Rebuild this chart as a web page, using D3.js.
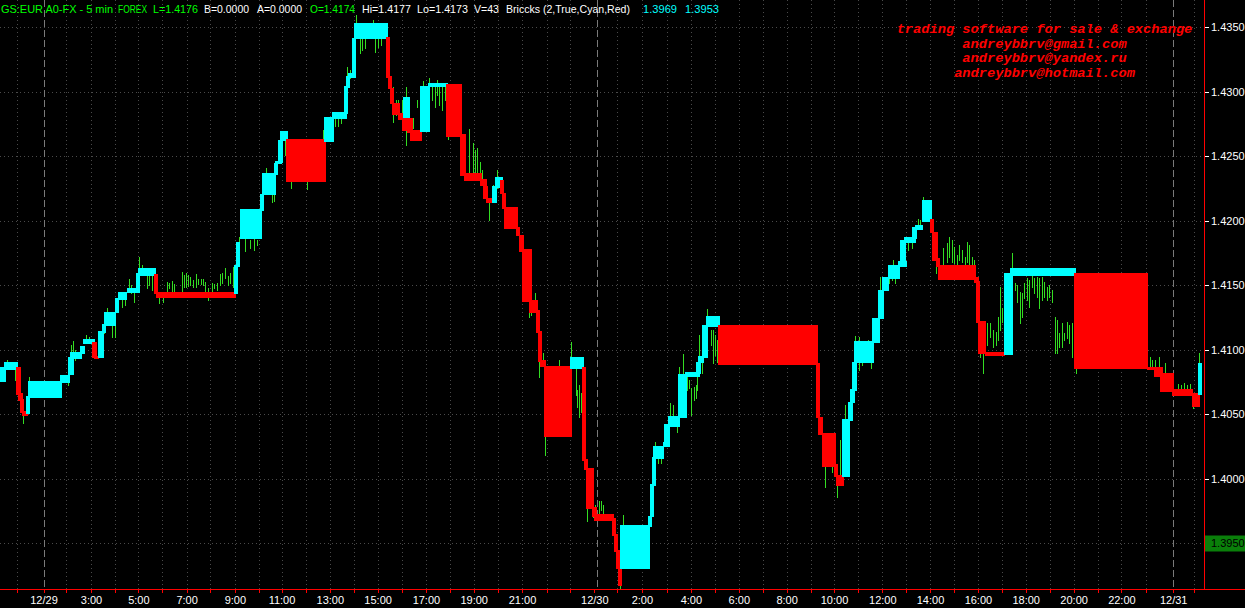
<!DOCTYPE html>
<html><head><meta charset="utf-8">
<script src="https://cdn.jsdelivr.net/npm/d3@7"></script>
<style>html,body{margin:0;padding:0;background:#000;overflow:hidden}svg{display:block}</style>
</head><body><svg id="c" width="1245" height="608"></svg>
<script>
// ---------- data ----------
const priceTicks = [1.3950, 1.4000, 1.4050, 1.4100, 1.4150, 1.4200, 1.4250, 1.4300, 1.4350];
const markedPrice = 1.3950;
const timeTickSlots = [8.3, 21.75, 33.2, 45.5, 57.35, 69.2, 81, 93.3, 105.2, 117.45, 129.3, 140.75, 153, 164.9, 176.75, 188.8, 201, 212.95, 225, 236.85, 249.1, 261, 273.25, 285, 297.15, 308.4, 320.95, 333.3, 345.45, 357.4, 369.4, 381.35, 393.3, 405.25, 417, 429.15, 441.15, 453.1, 465, 477, 488.95, 500.9, 512.85, 525.2, 536.8, 548.75, 560.7, 573, 586.6, 597];
const timeTickLabels = ["", "12/29", "", "3:00", "", "5:00", "", "7:00", "", "9:00", "", "11:00", "", "13:00", "", "15:00", "", "17:00", "", "19:00", "", "21:00", "", "", "12/30", "", "2:00", "", "4:00", "", "6:00", "", "8:00", "", "10:00", "", "12:00", "", "14:00", "", "16:00", "", "18:00", "", "20:00", "", "22:00", "", "12/31", ""];
const daySeparatorSlots = [21.75, 298.6, 586.6];

// bricks: [startSlot, endSlot, high, low, direction(1 up / -1 down)]
const bricks = [
[0,3,1.40864,1.40748,1],[2,9,1.40903,1.40841,1],[8,10.5,1.40864,1.40647,-1],[9,11.5,1.40663,1.40601,-1],
[10,12,1.40616,1.40507,-1],[11,14,1.40523,1.40484,-1],[13,15,1.40639,1.40500,1],[14,31,1.40756,1.40624,1],
[30,35,1.40802,1.40740,1],[34,37,1.40942,1.40802,1],[35,41,1.40980,1.40926,1],[40,42.5,1.41027,1.40965,1],
[41.5,47.5,1.41081,1.41042,1],[46,48.5,1.41058,1.40934,-1],[47,49.5,1.40949,1.40926,-1],[49,52,1.41143,1.40934,1],
[51,53,1.41197,1.41128,1],[52,58,1.41290,1.41182,1],[57.5,59.5,1.41399,1.41283,1],[59,63.5,1.41445,1.41383,1],
[63.5,70,1.41476,1.41438,1],[68,70,1.41593,1.41461,1],[69,78,1.41632,1.41569,1],[77,79,1.41585,1.41430,-1],
[78,118,1.41445,1.41399,-1],[117,119,1.41655,1.41430,1],[118,120,1.41833,1.41639,1],[120,131,1.42090,1.41856,1],
[130,132,1.42206,1.42074,1],[131,138,1.42369,1.42198,1],[137,139,1.42445,1.42353,1],[137.5,141,1.42461,1.42439,1],
[139,141.5,1.42624,1.42445,1],[140,144,1.42694,1.42616,1],[143,163,1.42632,1.42299,-1],
[162,167,1.42802,1.42608,1],[166,173.5,1.42841,1.42787,1],[172,174,1.43042,1.42825,1],[173,175,1.43120,1.43027,1],
[174,178,1.43143,1.43104,1],[176,178,1.43414,1.43135,1],[177,194,1.43531,1.43407,1],[193,195,1.43422,1.43104,-1],
[194,196,1.43120,1.43019,-1],[195,197,1.43027,1.42903,-1],[196,200,1.42911,1.42818,-1],[199,202.5,1.42833,1.42779,-1],
[201,203.5,1.42802,1.42694,-1],[201.5,205,1.42957,1.42794,1],[203.5,206.5,1.42794,1.42678,-1],[205,211,1.42701,1.42616,-1],
[210,215,1.43042,1.42686,1],[214,224,1.43066,1.43035,1],[223,231,1.43058,1.42647,-1],[230,233,1.42670,1.42346,-1],
[232,241,1.42369,1.42307,-1],[240,243.5,1.42322,1.42268,-1],[241.5,244,1.42268,1.42167,-1],[243,246.5,1.42175,1.42136,-1],
[246,248.5,1.42268,1.42136,1],[247.5,251.5,1.42338,1.42253,1],[250,252,1.42315,1.42206,-1],[251,253,1.42214,1.42090,-1],
[252,259,1.42105,1.41934,-1],[258,260,1.41950,1.41880,-1],[259.5,262,1.41887,1.41756,-1],[261,266,1.41779,1.41368,-1],
[264.5,269,1.41383,1.41283,-1],[268,270,1.41306,1.41128,-1],[269,271,1.41143,1.40903,-1],[270,273,1.40918,1.40864,-1],
[272,286,1.40872,1.40321,-1],[285,292,1.40942,1.40849,1],[291,293,1.40864,1.40135,-1],[292,294,1.40151,1.40066,-1],
[293,297,1.40081,1.39763,-1],[296,298.5,1.39779,1.39701,-1],[297,307,1.39725,1.39670,-1],[306,308,1.39694,1.39554,-1],
[307,309,1.39570,1.39430,-1],[308,310,1.39445,1.39298,-1],[309,311,1.39306,1.39166,-1],[310,325,1.39639,1.39298,1],
[324,326,1.39709,1.39624,1],[325,327,1.39957,1.39701,1],[326,328,1.40166,1.39942,1],[326.5,332,1.40252,1.40151,1],
[331.5,335,1.40283,1.40245,1],[332,335,1.40422,1.40245,1],[334,340,1.40484,1.40399,1],[339,343.5,1.40810,1.40469,1],
[342.5,350,1.40825,1.40787,1],[348,350.5,1.40903,1.40810,1],[349,352,1.40949,1.40895,1],[351,354,1.41190,1.40934,1],
[353,360,1.41259,1.41174,1],[359,409,1.41190,1.40880,-1],
[408,410,1.40895,1.40469,-1],[409,411.5,1.40476,1.40337,-1],[411,418,1.40352,1.40089,-1],[417,419,1.40112,1.40011,-1],
[418,422,1.40027,1.39942,-1],[421,425,1.40461,1.40011,1],[424,426.5,1.40593,1.40445,1],[425,427.5,1.40694,1.40585,1],
[426,428.5,1.40903,1.40678,1],[427,437,1.41066,1.40895,1],[436,440,1.41244,1.41050,1],[439,442,1.41461,1.41236,1],
[441,444.5,1.41562,1.41453,1],[444,450,1.41655,1.41546,1],[449,453.5,1.41686,1.41639,1],[450,453,1.41849,1.41670,1],
[452,458,1.41872,1.41825,1],[456,458.5,1.41950,1.41856,1],[457.5,461.5,1.41965,1.41926,1],[461,466,1.42160,1.41989,1],
[465,467,1.42011,1.41903,-1],[466,469,1.41911,1.41686,-1],[468,470,1.41709,1.41639,-1],[469,488,1.41655,1.41539,-1],
[487,489.5,1.41562,1.41515,-1],[488,490,1.41531,1.41205,-1],[489,493,1.41221,1.40965,-1],[492.5,502.5,1.40980,1.40949,-1],
[502,506.5,1.41593,1.40957,1],[505,538,1.41632,1.41569,1],[537,574,1.41593,1.40849,-1],[573.5,577.5,1.40864,1.40841,-1],
[577,581.5,1.40864,1.40787,-1],[580,587,1.40818,1.40671,-1],[586,596.5,1.40694,1.40639,-1],[596,600,1.40663,1.40554,-1],
[599,601,1.40895,1.40647,1]
];

// visible 5-minute price bars: [slot, high, low]
const bars = [
[3.5,1.40918,1.40864],[7.5,1.40841,1.40763],[11.5,1.40531,1.40430],[14.5,1.40787,1.40740],[34,1.40763,1.40725],
[35.5,1.41035,1.40934],[36.5,1.41066,1.40942],[37.5,1.40996,1.40918],[43,1.41112,1.41058],[44.5,1.41097,1.41050],
[52,1.41283,1.41128],[53.5,1.41321,1.41283],[56,1.41190,1.41097],[57.5,1.41213,1.41097],[61,1.41383,1.41329],
[62.5,1.41407,1.41345],[64.5,1.41546,1.41476],[65.5,1.41500,1.41438],[67,1.41461,1.41368],[69.5,1.41717,1.41632],
[71,1.41655,1.41616],[73.5,1.41593,1.41476],[74.5,1.41569,1.41500],[76,1.41577,1.41461],[77,1.41539,1.41476],
[79.5,1.41438,1.41360],[81.5,1.41438,1.41368],[83.5,1.41523,1.41438],[84.5,1.41515,1.41476],[86,1.41531,1.41445],
[87,1.41507,1.41445],[91,1.41601,1.41445],[92,1.41577,1.41484],[93,1.41593,1.41484],[94,1.41577,1.41492],
[95,1.41562,1.41500],[96.5,1.41539,1.41484],[98,1.41585,1.41484],[99,1.41546,1.41507],[100.5,1.41546,1.41507],
[101.5,1.41546,1.41500],[102.5,1.41523,1.41445],[104,1.41476,1.41383],[106,1.41515,1.41453],[107,1.41507,1.41476],
[108.5,1.41515,1.41461],[110,1.41585,1.41500],[111,1.41593,1.41515],[112.5,1.41632,1.41554],[114,1.41569,1.41500],
[115,1.41593,1.41515],[116.5,1.41639,1.41484],[119.5,1.41872,1.41825],[122.5,1.41864,1.41763],[125,1.41849,1.41787],
[127,1.41864,1.41771],[128.5,1.41849,1.41810],[133,1.42407,1.42353],[136,1.42198,1.42144],[137,1.42198,1.42151],
[142.5,1.42624,1.42507],[145.5,1.42299,1.42253],[153.5,1.42299,1.42245],[161.5,1.42701,1.42639],[167.5,1.42787,1.42732],
[169,1.42794,1.42732],[170.5,1.42802,1.42756],[173.5,1.43190,1.43112],[175,1.43166,1.43104],[178,1.43593,1.43531],
[180,1.43407,1.43298],[181,1.43407,1.43321],[182.5,1.43407,1.43337],[186.5,1.43554,1.43515],[187.5,1.43407,1.43306],
[189,1.43407,1.43345],[190.5,1.43407,1.43360],[193,1.43407,1.43267],[196.5,1.43035,1.42763],[198,1.42934,1.42818],
[199,1.42934,1.42794],[201,1.42934,1.42818],[203,1.43035,1.42585],[205,1.42794,1.42701],[206.5,1.42794,1.42717],
[208.5,1.42934,1.42880],[211.5,1.43081,1.43035],[214.5,1.43104,1.43050],[216,1.43035,1.42934],[217.5,1.43035,1.42880],
[218.5,1.43089,1.42973],[219.5,1.43035,1.42895],[221,1.43035,1.42856],[222.5,1.43035,1.42934],[224,1.42662,1.42632],
[234.5,1.42709,1.42376],[236.5,1.42600,1.42369],[237.5,1.42546,1.42369],[238.5,1.42562,1.42369],[240,1.42453,1.42315],
[241,1.42391,1.42276],[244.5,1.42144,1.42004],[246.5,1.42276,1.42198],[248.5,1.42391,1.42253],[259.5,1.41887,1.41795],
[264.5,1.41368,1.41252],[265.5,1.41345,1.41267],[267.5,1.41438,1.41290],[269.5,1.40903,1.40787],[271.5,1.40973,1.40903],
[272.5,1.40321,1.40182],[279.5,1.40918,1.40872],[285.5,1.41058,1.40942],[288,1.40856,1.40647],[288.5,1.40686,1.40554],
[289.5,1.40725,1.40476],[290.5,1.40663,1.40515],[293.5,1.39763,1.39670],[296.5,1.39810,1.39701],[297.5,1.39794,1.39717],
[299.5,1.39825,1.39732],[300.5,1.39825,1.39756],[301.5,1.39794,1.39732],[310,1.39174,1.39151],[311.5,1.39717,1.39632],
[327.5,1.40283,1.40245],[329,1.40159,1.40120],[330.5,1.40159,1.40120],[335,1.40585,1.40469],[336.5,1.40569,1.40469],
[338.5,1.40414,1.40360],[339.5,1.40864,1.40810],[341.5,1.40965,1.40810],[343.5,1.40787,1.40686],[344.5,1.40763,1.40701],
[345.5,1.40701,1.40492],[347,1.40709,1.40608],[348,1.40725,1.40624],[348.5,1.40787,1.40686],[349.5,1.41112,1.40942],
[351,1.40895,1.40818],[353.5,1.41314,1.41252],[355.5,1.41151,1.41035],[356.5,1.41151,1.40895],[357.5,1.41112,1.40957],
[358.5,1.41074,1.40903],[412.5,1.40089,1.39934],[416,1.40120,1.40050],[418.5,1.39965,1.39856],[420,1.40298,1.39988],
[421.5,1.40259,1.40066],[422.5,1.40569,1.40275],[427.5,1.41104,1.41050],[429.5,1.41097,1.40841],[431,1.40996,1.40880],
[432.5,1.41058,1.40942],[434,1.41074,1.40918],[435.5,1.41035,1.40856],[440,1.41562,1.41461],[441.5,1.41554,1.41461],
[444.5,1.41647,1.41515],[446,1.41616,1.41539],[446.5,1.41694,1.41647],[447.5,1.41632,1.41515],[449,1.41647,1.41569],
[451,1.41849,1.41756],[452.5,1.41825,1.41771],[454,1.41849,1.41771],[456,1.41825,1.41787],[459,1.42011,1.41950],
[460,1.42004,1.41950],[461.5,1.42182,1.42144],[468,1.41694,1.41593],[469.5,1.41678,1.41616],[471.5,1.41787,1.41639],
[473.5,1.41825,1.41678],[474.5,1.41872,1.41717],[476,1.41849,1.41678],[477,1.41795,1.41670],[478.5,1.41732,1.41655],
[479.5,1.41810,1.41694],[481,1.41771,1.41678],[482.5,1.41717,1.41639],[483.5,1.41833,1.41678],[484.5,1.41810,1.41655],
[486,1.41717,1.41655],[487,1.41694,1.41655],[490,1.41205,1.40942],[491.5,1.40973,1.40818],[493.5,1.41205,1.41035],
[495,1.41205,1.41097],[496.5,1.41151,1.41019],[498,1.41136,1.41035],[499,1.41252,1.41074],[500,1.41484,1.41151],
[501,1.41321,1.41213],[502,1.41407,1.41252],[506,1.41748,1.41593],[507.5,1.41515,1.41461],[508.5,1.41500,1.41368],
[510,1.41445,1.41205],[511,1.41438,1.41252],[512,1.41515,1.41399],[513.5,1.41554,1.41383],[514.5,1.41539,1.41329],
[516,1.41569,1.41484],[517,1.41554,1.41438],[518.5,1.41562,1.41407],[519.5,1.41554,1.41321],[521,1.41562,1.41383],
[522,1.41523,1.41407],[523.5,1.41484,1.41383],[524.5,1.41500,1.41407],[526,1.41461,1.41368],[527.5,1.41252,1.40973],
[528.5,1.41228,1.40973],[529.5,1.41128,1.41019],[531,1.41205,1.41019],[532,1.41128,1.41074],[533.5,1.41213,1.41089],
[534.5,1.41190,1.41050],[536,1.41205,1.40942],[538,1.40864,1.40818],[575,1.40942,1.40864],[576,1.40918,1.40864],
[577.5,1.40918,1.40856],[579.5,1.40942,1.40864],[582.5,1.40895,1.40802],[589,1.40732,1.40678],[590.5,1.40725,1.40686],
[592,1.40740,1.40678],[593.5,1.40725,1.40686],[595,1.40732,1.40678],[596.5,1.40585,1.40546],[599.5,1.40973,1.40895]
];

// header segments: [text, colour, left x, width]
const headerParts = [
  ["GS:EUR A0-FX - 5 min", "#00ff00", 1, 112],
  ["FOREX", "#00ff00", 118, 29],
  ["L=1.4176", "#00ff00", 153, 45],
  ["B=0.0000", "#ffffff", 204, 45],
  ["A=0.0000", "#ffffff", 257, 45],
  ["O=1.4174", "#00ff00", 310, 45],
  ["Hi=1.4177", "#ffffff", 362, 49],
  ["Lo=1.4173", "#ffffff", 417, 51],
  ["V=43", "#ffffff", 474, 25],
  ["Briccks (2,True,Cyan,Red)", "#ffffff", 506, 124],
  ["1.3969", "#00ffff", 643, 34],
  ["1.3953", "#00ffff", 685, 34]
];
const adLines = ["trading software for sale & exchange", "andreybbrv@gmail.com", "andreybbrv@yandex.ru", "andreybbrv@hotmail.com"];

// ---------- drawing ----------
const W = 1245, H = 608, plotR = 1204, plotB = 589;
const svg = d3.select("#c");
svg.append("rect").attr("width", W).attr("height", H).attr("fill", "#000");

const x = d3.scaleLinear().domain([0, 602]).range([0, plotR]);
const y = d3.scaleLinear().domain([1.3950, 1.4350]).range([543, 27]);
const px = v => Math.round(v) + 0.5;

const grid = svg.append("g").attr("shape-rendering", "crispEdges");
grid.selectAll("line.h").data(priceTicks).join("line")
  .attr("x1", 0).attr("x2", plotR).attr("y1", d => px(y(d))).attr("y2", d => px(y(d)))
  .attr("stroke", "#4a4a4a").attr("stroke-dasharray", "1,3");
grid.selectAll("line.v").data(timeTickSlots.filter(s => !daySeparatorSlots.some(d => Math.abs(d - s) < 2))).join("line")
  .attr("x1", d => px(x(d))).attr("x2", d => px(x(d))).attr("y1", 0).attr("y2", plotB)
  .attr("stroke", "#4a4a4a").attr("stroke-dasharray", "1,3");
grid.selectAll("line.d").data(daySeparatorSlots).join("line")
  .attr("x1", d => px(x(d))).attr("x2", d => px(x(d))).attr("y1", 0).attr("y2", plotB)
  .attr("stroke", "#7a7a7a").attr("stroke-dasharray", "7,3");

// price bars
svg.append("g").attr("shape-rendering", "crispEdges")
  .selectAll("line").data(bars).join("line")
  .attr("x1", d => px(x(d[0]))).attr("x2", d => px(x(d[0])))
  .attr("y1", d => Math.round(y(d[1]))).attr("y2", d => Math.round(y(d[2])) + 1)
  .attr("stroke", "#33dd22").attr("stroke-width", 1);

// bricks
svg.append("g").attr("shape-rendering", "crispEdges")
  .selectAll("rect").data(bricks).join("rect")
  .attr("x", d => Math.round(x(d[0]))).attr("width", d => Math.max(1, Math.round(x(d[1])) - Math.round(x(d[0]))))
  .attr("y", d => Math.round(y(d[2]))).attr("height", d => Math.max(1, Math.round(y(d[3])) - Math.round(y(d[2]))))
  .attr("fill", d => d[4] > 0 ? "#00ffff" : "#ff0000");

// axes lines
const ax = svg.append("g").attr("shape-rendering", "crispEdges");
ax.append("line").attr("x1", px(plotR)).attr("x2", px(plotR)).attr("y1", 0).attr("y2", plotB).attr("stroke", "#ff0000");
ax.append("line").attr("x1", 0).attr("x2", W).attr("y1", px(plotB)).attr("y2", px(plotB)).attr("stroke", "#ff0000");

// right axis
const yAxis = d3.axisRight(y).tickValues(priceTicks).tickFormat(d3.format(".4f")).tickSize(4).tickPadding(2);
const yg = svg.append("g").attr("transform", `translate(${plotR + 1},0)`).call(yAxis);
yg.select(".domain").remove();
yg.selectAll(".tick line").attr("stroke", "#ffffff").attr("shape-rendering", "crispEdges");
yg.selectAll(".tick text").attr("fill", "#ffffff").attr("font-family", "'Liberation Sans', Arial, sans-serif").attr("font-size", 11)
  .attr("x", 6);
yg.selectAll(".tick").filter(d => Math.abs(d - markedPrice) < 1e-9).each(function () {
  const g = d3.select(this);
  g.insert("rect", "text").attr("x", 0).attr("y", -8).attr("width", W - plotR - 1).attr("height", 16).attr("fill", "#0a7f0a");
  g.select("text").attr("fill", "#000000");
});

// bottom axis
const xAxis = d3.axisBottom(x).tickValues(timeTickSlots).tickFormat((d, i) => timeTickLabels[i]).tickSize(3).tickPadding(3);
const xg = svg.append("g").attr("transform", `translate(0,${plotB + 1})`).call(xAxis);
xg.select(".domain").remove();
xg.selectAll(".tick line").attr("stroke", "#ff0000").attr("shape-rendering", "crispEdges");
xg.selectAll(".tick text").attr("fill", "#ffffff").attr("font-family", "'Liberation Sans', Arial, sans-serif").attr("font-size", 11);

// header
const hdr = svg.append("g").attr("font-family", "'Liberation Sans', Arial, sans-serif").attr("font-size", 11);
hdr.selectAll("text").data(headerParts).join("text")
  .attr("x", d => d[2]).attr("y", 13).attr("fill", d => d[1])
  .attr("textLength", d => d[3]).attr("lengthAdjust", "spacingAndGlyphs").text(d => d[0]);

// advertisement text
svg.append("g").attr("font-family", "'Liberation Mono', 'Courier New', monospace").attr("font-size", 13.7)
  .attr("font-weight", "bold").attr("font-style", "italic").attr("fill", "#ff0000").attr("text-anchor", "middle")
  .selectAll("text").data(adLines).join("text")
  .attr("x", 1044.5).attr("y", (d, i) => 33 + i * 14.5).style("white-space", "pre").text(d => d);
</script>
</body></html>
